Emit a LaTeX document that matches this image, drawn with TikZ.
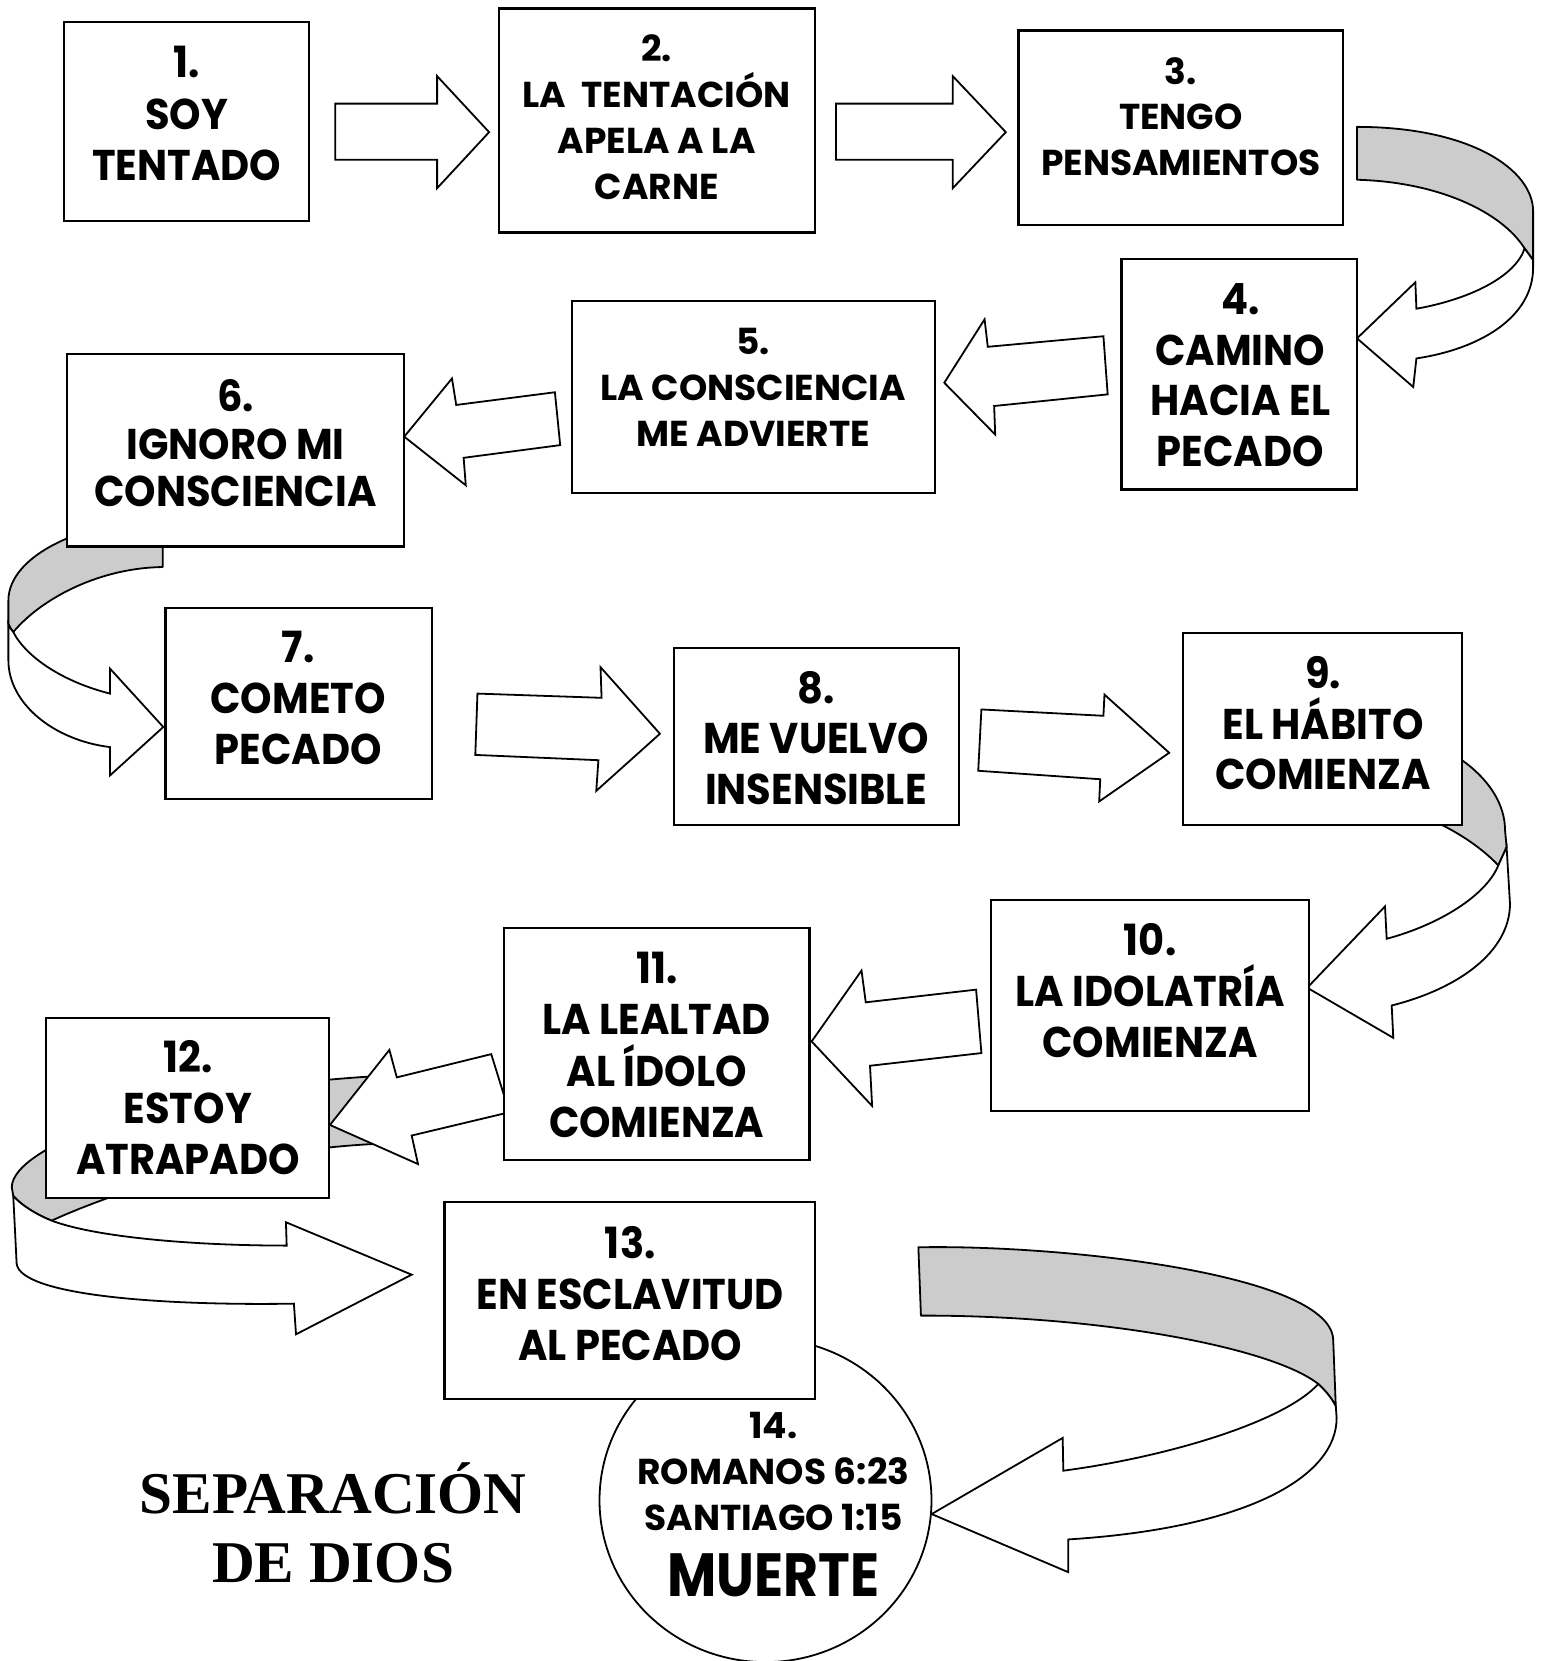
\documentclass[tikz,border=0pt]{standalone}
\usepackage{fontspec}
\usetikzlibrary{shapes.geometric}
\newfontfamily\gothic{Poppins}
\newfontfamily\gothicn{Poppins}[FakeStretch=0.93]
\newfontfamily\gothicm{Poppins}[FakeStretch=0.88]
\newfontfamily\timesb{Liberation Serif}
\definecolor{ribgray}{HTML}{CCCCCC}
\begin{document}
\begin{tikzpicture}[x=0.5305pt,y=-0.52865pt,
  box/.style={draw, line width=1.15pt, fill=white, inner sep=0pt},
  arr/.style={draw, line width=0.9pt, fill=white, line join=miter},
  back/.style={draw, line width=0.9pt, fill=ribgray, line join=round},
  front/.style={draw, line width=0.9pt, fill=white, line join=miter},
  big/.style={font=\gothicn\bfseries\fontsize{21.5}{#1}\selectfont, align=center, inner sep=0pt},
  big/.default=25.4,
  mid/.style={font=\gothic\bfseries\fontsize{18}{#1}\selectfont, align=center, inner sep=0pt},
  mid/.default=23]
\useasboundingbox (0,0) rectangle (1456.2,1571);
\fill[white] (0,0) rectangle (1456.2,1571);

% ---- curved ribbon 3 -> 4
\path[back] (1279,120) .. controls (1385,120) and (1445,160) .. (1445,200) -- (1445,246)
  .. controls (1442,242) and (1440,239) .. (1437,235)
  .. controls (1415,200) and (1355,172) .. (1279,170) -- cycle;
\path[front] (1445,246) -- (1445,253) .. controls (1445,300) and (1395,330) .. (1335,339)
  -- (1332,366) -- (1279,320) -- (1334,267) -- (1335,292)
  .. controls (1385,283) and (1428,262) .. (1437,235)
  .. controls (1440,239) and (1442,242) .. (1445,246) -- cycle;

% ---- curved ribbon 6 -> 7
\path[back] (153.4,492) .. controls (80,492) and (7.9,525) .. (7.9,568) -- (7.9,590)
  .. controls (9,593) and (11,596) .. (12.5,597.8)
  .. controls (40,565) and (95,537) .. (153.4,536.3) -- cycle;
\path[front] (7.9,590) -- (7.9,624.5) .. controls (7.9,665) and (50,700) .. (103.7,706.6)
  -- (103.7,733.4) -- (153.9,687.6) -- (103.7,632.4) -- (103.7,656)
  .. controls (60,645) and (25,622) .. (12.5,597.8)
  .. controls (11,596) and (9,593) .. (7.9,590) -- cycle;

% ---- curved ribbon 9 -> 10
\path[back] (1340,700) .. controls (1378,712) and (1418.5,745) .. (1418.5,785) -- (1420,801)
  .. controls (1418,806) and (1415,812) .. (1412.2,818.5)
  .. controls (1395,800) and (1365,780) .. (1330,768) -- cycle;
\path[front] (1420,801) -- (1423.2,855) .. controls (1423,900) and (1375,935) .. (1311.7,951)
  -- (1313.2,981.6) -- (1232.1,934.2) -- (1305.4,857.3) -- (1307,887.9)
  .. controls (1355,875) and (1400,848) .. (1412.2,818.5)
  .. controls (1415,812) and (1418,806) .. (1420,801) -- cycle;

% ---- curved ribbon 12 -> 13
\path[back] (352,1018) .. controls (150,1030) and (11.1,1085) .. (11.1,1123) -- (12.5,1131)
  .. controls (20,1140) and (35,1149) .. (48.7,1154.5)
  .. controls (80,1140) and (200,1090) .. (352,1082) -- cycle;
\path[front] (12.5,1131) -- (15.7,1195.4) .. controls (20,1225) and (150,1235) .. (277,1233)
  -- (279,1262) -- (388,1205.6) -- (269.5,1156) -- (270.2,1178.1)
  .. controls (180,1178) and (90,1170) .. (48.7,1154.5)
  .. controls (35,1149) and (20,1140) .. (12.5,1131) -- cycle;

% ---- curved ribbon 13 -> 14
\path[back] (865.6,1179.7) .. controls (1000,1177) and (1256.6,1205) .. (1256.6,1268) -- (1259,1330)
  .. controls (1255,1322) and (1249,1315) .. (1242.5,1309)
  .. controls (1200,1275) and (1040,1244) .. (868,1244.3) -- cycle;
\path[front] (1259,1330) -- (1259.8,1341) .. controls (1260,1395) and (1180,1445) .. (1006.9,1456)
  -- (1006.9,1487) -- (878.1,1432) -- (1001.6,1360) -- (1002.2,1391)
  .. controls (1100,1378) and (1210,1345) .. (1242.5,1309)
  .. controls (1249,1315) and (1255,1322) .. (1259,1330) -- cycle;

% ---- straight block arrows
\path[arr] (316,98) -- (412,98) -- (412,72) -- (461,125) -- (412,178) -- (412,151) -- (316,151) -- cycle;
\path[arr] (788,98) -- (898,98) -- (898,72) -- (948,125) -- (898,178) -- (898,151) -- (788,151) -- cycle;
\path[arr] (1040,318) -- (931,328) -- (928,302) -- (890,362) -- (938,411) -- (937,384) -- (1044,373) -- cycle;
\path[arr] (523,371) -- (430,383) -- (426,358) -- (381,413) -- (439,459) -- (437,433) -- (528,421) -- cycle;
\path[arr] (450,656) -- (567,660) -- (566,631) -- (622,694) -- (562,748) -- (564,719) -- (448,714) -- cycle;
\path[arr] (925,671) -- (1040,677) -- (1041,657) -- (1102,712) -- (1036,758) -- (1037,737) -- (922,729) -- cycle;
\path[arr] (920,936) -- (816,948) -- (812,918) -- (765,985) -- (822,1046) -- (820,1008) -- (925,996) -- cycle;
\path[arr] (463,997) -- (374,1019) -- (367,993) -- (311,1064) -- (394,1101) -- (388,1074) -- (480,1052) -- cycle;

% ---- circle 14
\node[draw, line width=0.9pt, fill=white, ellipse, minimum width=166pt, minimum height=161.8pt, inner sep=0pt] (c14) at (721.5,1419) {};

% ---- boxes
\node[box, minimum width=122.5pt, minimum height=99.4pt] (b1) at (175.5,115) {};
\node[box, minimum width=158.1pt, minimum height=112.1pt] (b2) at (619,114) {};
\node[box, minimum width=162.3pt, minimum height=97.3pt] (b3) at (1113,121) {};
\node[box, minimum width=117.8pt, minimum height=115.2pt] (b4) at (1168,354) {};
\node[box, minimum width=181.4pt, minimum height=95.7pt] (b5) at (710,375.5) {};
\node[box, minimum width=168.7pt, minimum height=96.2pt] (b6) at (222,426) {};
\node[box, minimum width=133.2pt, minimum height=95.7pt] (b7) at (281.5,665.5) {};
\node[box, minimum width=142.7pt, minimum height=88.3pt] (b8) at (769.5,696.5) {};
\node[box, minimum width=139.5pt, minimum height=95.7pt] (b9) at (1246.5,689.5) {};
\node[box, minimum width=159.2pt, minimum height=105.7pt] (b10) at (1084,951) {};
\node[box, minimum width=152.8pt, minimum height=115.8pt] (b11) at (619,987.5) {};
\node[box, minimum width=141.6pt, minimum height=89.9pt] (b12) at (176.5,1048) {};
\node[box, minimum width=185.1pt, minimum height=98.3pt] (b13) at (593.5,1230) {};

% ---- texts
\node[big=25.6] (t1) at (176,107.3) {1.\\SOY\\TENTADO};
\node[mid=22.9] (t2) at (619,110.75) {2.\\LA\ \ TENTACIÓN\\APELA A LA\\CARNE};
\node[mid=22.7] (t3) at (1113,110.3) {3.\\TENGO\\PENSAMIENTOS};
\node[big=25.4] (t4) at (1169,354.75) {4.\\CAMINO\\HACIA EL\\PECADO};
\node[mid=23] (t5) at (710,366) {5.\\LA CONSCIENCIA\\ME ADVIERTE};
\node[big=23.8] (t6) at (222,419.3) {6.\\IGNORO MI\\CONSCIENCIA};
\node[big] (t7) at (281,660.3) {7.\\COMETO\\PECADO};
\node[big] (t8) at (769,698) {8.\\ME VUELVO\\INSENSIBLE};
\node[big] (t9) at (1247,684) {9.\\EL HÁBITO\\COMIENZA};
\node[big=25.6] (t10) at (1084,936.7) {10.\\LA IDOLATRÍA\\COMIENZA};
\node[big=25.7] (t11) at (619,988.5) {11.\\LA LEALTAD\\AL ÍDOLO\\COMIENZA};
\node[big=25.6] (t12) at (177,1047.7) {12.\\ESTOY\\ATRAPADO};
\node[big] (t13) at (594,1223.3) {13.\\EN ESCLAVITUD\\AL PECADO};
\node[mid=23] (t14) at (729,1391.3) {14.\\ROMANOS 6:23\\SANTIAGO 1:15};
\node[font=\gothicm\bfseries\fontsize{30.5}{36}\selectfont, inner sep=0pt] (t14b) at (729,1490) {MUERTE};
\node[font=\timesb\bfseries\fontsize{29.6}{34.4}\selectfont, align=center, inner sep=0pt] (sep) at (314,1440) {SEPARACIÓN\\DE DIOS};
\end{tikzpicture}
\end{document}
